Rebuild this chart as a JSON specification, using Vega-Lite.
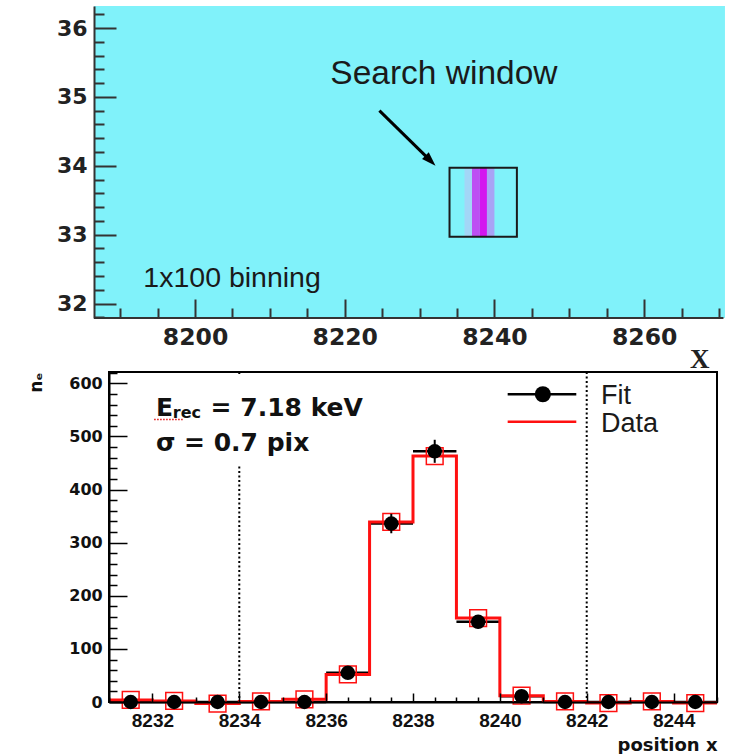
{
 "$schema": "https://vega.github.io/schema/vega-lite/v6.json",
 "padding": {"left": 26, "top": 6, "right": 0, "bottom": 0},
 "columns": 1,
 "bounds": "flush",
 "center": true,
 "spacing": 54,
 "config": {"view": {"stroke": null}, "axis": {"grid": false, "labelOverlap": false, "tickCount": 200, "zindex": 1}, "font": "Liberation Sans"},
 "datasets": {
  "heat": [
   {"x0": 8186.5, "x1": 8270.8, "y0": 31.79, "y1": 36.32, "v": 0},
   {"x0": 8236, "x1": 8237, "y0": 32.97, "y1": 33.97, "v": 52},
   {"x0": 8237, "x1": 8238, "y0": 32.97, "y1": 33.97, "v": 339},
   {"x0": 8238, "x1": 8239, "y0": 32.97, "y1": 33.97, "v": 463},
   {"x0": 8239, "x1": 8240, "y0": 32.97, "y1": 33.97, "v": 158}
  ],
  "xaxisline": [{"x0": 8186.5, "x1": 8270.6, "y": 31.79}],
  "box": [{"x0": 8234, "x1": 8243, "y0": 32.97, "y1": 33.97}],
  "arrow": [{"x": 8224.63, "y": 34.80, "x2": 8231.31, "y2": 34.09}],
  "arrowhead": [{"x": 8231.31, "y": 34.09}],
  "searchtext": [{"t": "Search window", "x": 8218.07, "y": 35.19}],
  "bintext": [{"t": "1x100 binning", "x": 8193.09, "y": 32.236}],
  "bins": [
   {"x": 8231.5, "x0": 8231, "x1": 8232, "data": 4, "fit": 0, "lo": 0, "hi": 0},
   {"x": 8232.5, "x0": 8232, "x1": 8233, "data": 2, "fit": 0, "lo": 0, "hi": 0},
   {"x": 8233.5, "x0": 8233, "x1": 8234, "data": -3, "fit": 0, "lo": 0, "hi": 0},
   {"x": 8234.5, "x0": 8234, "x1": 8235, "data": 1, "fit": 0, "lo": 0, "hi": 0},
   {"x": 8235.5, "x0": 8235, "x1": 8236, "data": 5, "fit": 0, "lo": 0, "hi": 0},
   {"x": 8236.5, "x0": 8236, "x1": 8237, "data": 52, "fit": 55, "lo": 47.6, "hi": 62.4},
   {"x": 8237.5, "x0": 8237, "x1": 8238, "data": 339, "fit": 336, "lo": 317.7, "hi": 354.3},
   {"x": 8238.5, "x0": 8238, "x1": 8239, "data": 463, "fit": 472, "lo": 450.3, "hi": 493.7},
   {"x": 8239.5, "x0": 8239, "x1": 8240, "data": 158, "fit": 151, "lo": 138.7, "hi": 163.3},
   {"x": 8240.5, "x0": 8240, "x1": 8241, "data": 12, "fit": 11, "lo": 7.7, "hi": 14.3},
   {"x": 8241.5, "x0": 8241, "x1": 8242, "data": 1, "fit": 0, "lo": 0, "hi": 0},
   {"x": 8242.5, "x0": 8242, "x1": 8243, "data": -2, "fit": 0, "lo": 0, "hi": 0},
   {"x": 8243.5, "x0": 8243, "x1": 8244, "data": 1, "fit": 0, "lo": 0, "hi": 0},
   {"x": 8244.5, "x0": 8244, "x1": 8245, "data": -2, "fit": 0, "lo": 0, "hi": 0}
  ],
  "steps": [
   {"edge": 8231, "n": 4}, {"edge": 8232, "n": 2}, {"edge": 8233, "n": -3}, {"edge": 8234, "n": 1},
   {"edge": 8235, "n": 5}, {"edge": 8236, "n": 52}, {"edge": 8237, "n": 339}, {"edge": 8238, "n": 463},
   {"edge": 8239, "n": 158}, {"edge": 8240, "n": 12}, {"edge": 8241, "n": 1}, {"edge": 8242, "n": -2},
   {"edge": 8243, "n": 1}, {"edge": 8244, "n": -2}, {"edge": 8245, "n": -2}
  ],
  "window": [{"pos": 8234}, {"pos": 8242}],
  "pave": [{"x0": 8232, "x1": 8236.9, "y0": 445, "y1": 615}],
  "ann25": [
   {"t": "E", "x": 8232.08, "y": 538.4},
   {"t": "= 7.18 keV", "x": 8233.34, "y": 538.4},
   {"t": "σ = 0.7 pix", "x": 8232.08, "y": 472.4}
  ],
  "annsub": [{"t": "rec", "x": 8232.47, "y": 535.4}],
  "squiggle": [{"x0": 8232.04, "x1": 8232.7, "y": 532}],
  "legline": [
   {"s": "Fit", "x0": 8240.18, "x1": 8241.76, "y": 579.3},
   {"s": "Data", "x0": 8240.18, "x1": 8241.76, "y": 527.8}
  ],
  "legdot": [{"x": 8240.99, "y": 579.3}],
  "legtext": [
   {"t": "Fit", "x": 8242.33, "y": 560.4},
   {"t": "Data", "x": 8242.33, "y": 507.6}
  ]
 },
 "concat": [
  {
   "width": 638,
   "height": 312,
   "layer": [
    {
     "data": {"name": "heat"},
     "mark": {"type": "rect"},
     "encoding": {
      "x": {"field": "x0", "type": "quantitative",
       "scale": {"domain": [8186.5, 8271.74], "nice": false, "zero": false},
       "axis": {
        "values": [8190, 8195, 8200, 8205, 8210, 8215, 8220, 8225, 8230, 8235, 8240, 8245, 8250, 8255, 8260, 8265, 8270],
        "labelExpr": "datum.value % 20 === 0 ? format(datum.value, 'd') : ''",
        "labelFont": "DejaVu Sans", "labelFontWeight": "bold", "labelColor": "#222",
        "labelFontSize": {"condition": {"test": "datum.value % 20 === 0", "value": 23.5}, "value": 0.1},
        "labelPadding": 26.6, "labelOverlap": false, "labelFlush": false, "tickCount": 200,
        "tickSize": {"condition": {"test": "datum.value % 20 === 0", "value": -19}, "value": -10},
        "tickColor": "#333", "tickWidth": 2, "zindex": 1,
        "domain": false,
        "title": "X", "titleFont": "Liberation Serif", "titleFontWeight": "bold", "titleFontSize": 27, "titleColor": "#222",
        "titleX": 615, "titleY": 49, "titleAlign": "right", "titleBaseline": "alphabetic", "titleAnchor": "end"
       }
      },
      "x2": {"field": "x1"},
      "y": {"field": "y0", "type": "quantitative",
       "scale": {"domain": [31.79, 36.32], "nice": false, "zero": false},
       "axis": {
        "values": [31.8, 32, 32.2, 32.4, 32.6, 32.8, 33, 33.2, 33.4, 33.6, 33.8, 34, 34.2, 34.4, 34.6, 34.8, 35, 35.2, 35.4, 35.6, 35.8, 36, 36.2],
        "labelExpr": "abs(datum.value - round(datum.value)) < 0.01 ? format(round(datum.value), 'd') : ''",
        "labelFont": "DejaVu Sans", "labelFontWeight": "bold", "labelColor": "#222",
        "labelFontSize": {"condition": {"test": "abs(datum.value - round(datum.value)) < 0.01", "value": 22}, "value": 0.1},
        "labelPadding": 29, "labelOverlap": false, "labelFlush": false, "tickCount": 200,
        "tickSize": {"condition": {"test": "abs(datum.value - round(datum.value)) < 0.01", "value": -22}, "value": -10},
        "tickColor": "#333", "tickWidth": 2, "zindex": 1,
        "domainColor": "#333", "domainWidth": 2,
        "title": null
       }
      },
      "y2": {"field": "y1"},
      "color": {"field": "v", "type": "quantitative",
       "scale": {"domain": [0, 52, 150, 340, 470], "range": ["#80f2fa", "#a3d6f7", "#a7a8f5", "#bd4ff3", "#d414ef"], "interpolate": "rgb"},
       "legend": null}
     }
    },
    {
     "data": {"name": "xaxisline"},
     "mark": {"type": "rule", "strokeWidth": 2, "color": "#333"},
     "encoding": {
      "x": {"field": "x0", "type": "quantitative"}, "x2": {"field": "x1"},
      "y": {"field": "y", "type": "quantitative"}
     }
    },
    {
     "data": {"name": "box"},
     "mark": {"type": "rect", "fillOpacity": 0, "stroke": "#1a1a1a", "strokeWidth": 2},
     "encoding": {
      "x": {"field": "x0", "type": "quantitative"}, "x2": {"field": "x1"},
      "y": {"field": "y0", "type": "quantitative"}, "y2": {"field": "y1"}
     }
    },
    {
     "data": {"name": "arrow"},
     "mark": {"type": "rule", "strokeWidth": 3, "color": "#000"},
     "encoding": {
      "x": {"field": "x", "type": "quantitative"}, "x2": {"field": "x2"},
      "y": {"field": "y", "type": "quantitative"}, "y2": {"field": "y2"}
     }
    },
    {
     "data": {"name": "arrowhead"},
     "mark": {"type": "point", "shape": "M0,-1L0.55,0.65L-0.55,0.65Z", "angle": 135, "filled": true, "color": "#000", "opacity": 1, "size": 300},
     "encoding": {
      "x": {"field": "x", "type": "quantitative"},
      "y": {"field": "y", "type": "quantitative"}
     }
    },
    {
     "data": {"name": "searchtext"},
     "mark": {"type": "text", "align": "left", "baseline": "alphabetic", "font": "Liberation Sans", "fontSize": 33.5, "color": "#1a1a1a"},
     "encoding": {
      "x": {"field": "x", "type": "quantitative"},
      "y": {"field": "y", "type": "quantitative"},
      "text": {"field": "t"}
     }
    },
    {
     "data": {"name": "bintext"},
     "mark": {"type": "text", "align": "left", "baseline": "alphabetic", "font": "Liberation Sans", "fontSize": 28.5, "color": "#1a1a1a"},
     "encoding": {
      "x": {"field": "x", "type": "quantitative"},
      "y": {"field": "y", "type": "quantitative"},
      "text": {"field": "t"}
     }
    }
   ]
  },
  {
   "width": 608,
   "height": 330,
   "view": {"stroke": "#000", "strokeWidth": 2},
   "layer": [
    {
     "data": {"name": "bins"},
     "mark": {"type": "rule", "strokeWidth": 2.5, "color": "#000"},
     "encoding": {
      "x": {"field": "x0", "type": "quantitative",
       "scale": {"domain": [8231, 8245], "nice": false, "zero": false},
       "axis": {
        "values": [8231, 8231.5, 8232, 8232.5, 8233, 8233.5, 8234, 8234.5, 8235, 8235.5, 8236, 8236.5, 8237, 8237.5, 8238, 8238.5, 8239, 8239.5, 8240, 8240.5, 8241, 8241.5, 8242, 8242.5, 8243, 8243.5, 8244, 8244.5, 8245],
        "labelExpr": "datum.value % 2 === 0 ? format(datum.value, 'd') : ''",
        "labelFont": "Liberation Sans", "labelFontWeight": "bold", "labelColor": "#111",
        "labelFontSize": {"condition": {"test": "datum.value % 2 === 0", "value": 19}, "value": 0.1},
        "labelPadding": 18.3, "labelOverlap": false, "labelFlush": false, "tickCount": 200,
        "tickSize": {"condition": {"test": "datum.value % 2 === 0", "value": -9}, "value": -5},
        "tickColor": "#000", "tickWidth": 1.5, "zindex": 1,
        "domainColor": "#000", "domainWidth": 2,
        "title": "position x", "titleFont": "DejaVu Sans", "titleFontWeight": "bold", "titleFontSize": 18, "titleColor": "#111",
        "titleX": 608, "titleY": 48, "titleAlign": "right", "titleBaseline": "alphabetic", "titleAnchor": "end"
       }
      },
      "x2": {"field": "x1"},
      "y": {"field": "fit", "type": "quantitative",
       "scale": {"domain": [0, 621.3], "nice": false, "zero": false},
       "axis": {
        "values": [0, 20, 40, 60, 80, 100, 120, 140, 160, 180, 200, 220, 240, 260, 280, 300, 320, 340, 360, 380, 400, 420, 440, 460, 480, 500, 520, 540, 560, 580, 600, 620],
        "labelExpr": "datum.value % 100 === 0 ? format(datum.value, 'd') : ''",
        "labelFont": "DejaVu Sans", "labelFontWeight": "bold", "labelColor": "#111",
        "labelFontSize": {"condition": {"test": "datum.value % 100 === 0", "value": 16}, "value": 0.1},
        "labelPadding": 24.8, "labelOverlap": false, "labelFlush": false, "tickCount": 200,
        "tickSize": {"condition": {"test": "datum.value % 100 === 0", "value": -18}, "value": -8},
        "tickColor": "#000", "tickWidth": 1.5, "zindex": 1,
        "domainColor": "#000", "domainWidth": 2,
        "title": "nₑ", "titleFont": "DejaVu Sans", "titleFontWeight": "bold", "titleFontSize": 17, "titleColor": "#111",
        "titleAngle": 270, "titleX": -73, "titleY": 0, "titleAlign": "right", "titleBaseline": "middle"
       }
      }
     }
    },
    {
     "data": {"name": "window"},
     "mark": {"type": "rule", "strokeDash": [2, 2.5], "strokeWidth": 2, "color": "#000"},
     "encoding": {"x": {"field": "pos", "type": "quantitative"}}
    },
    {
     "data": {"name": "pave"},
     "mark": {"type": "rect", "color": "#fff", "opacity": 1},
     "encoding": {
      "x": {"field": "x0", "type": "quantitative"}, "x2": {"field": "x1"},
      "y": {"field": "y0", "type": "quantitative"}, "y2": {"field": "y1"}
     }
    },
    {
     "data": {"name": "steps"},
     "mark": {"type": "line", "interpolate": "step-after", "color": "#ff1010", "strokeWidth": 3},
     "encoding": {
      "x": {"field": "edge", "type": "quantitative"},
      "y": {"field": "n", "type": "quantitative"}
     }
    },
    {
     "data": {"name": "bins"},
     "mark": {"type": "point", "shape": "square", "filled": false, "color": "#ff1010", "strokeWidth": 1.5, "size": 280, "opacity": 1},
     "encoding": {
      "x": {"field": "x", "type": "quantitative"},
      "y": {"field": "data", "type": "quantitative"}
     }
    },
    {
     "data": {"name": "bins"},
     "mark": {"type": "rule", "strokeWidth": 2, "color": "#000"},
     "encoding": {
      "x": {"field": "x", "type": "quantitative"},
      "y": {"field": "lo", "type": "quantitative"}, "y2": {"field": "hi"}
     }
    },
    {
     "data": {"name": "bins"},
     "mark": {"type": "point", "shape": "circle", "filled": true, "color": "#000", "size": 210, "opacity": 1},
     "encoding": {
      "x": {"field": "x", "type": "quantitative"},
      "y": {"field": "fit", "type": "quantitative"}
     }
    },
    {
     "data": {"name": "ann25"},
     "mark": {"type": "text", "align": "left", "baseline": "alphabetic", "font": "DejaVu Sans", "fontWeight": "bold", "fontSize": 25, "color": "#111"},
     "encoding": {
      "x": {"field": "x", "type": "quantitative"},
      "y": {"field": "y", "type": "quantitative"},
      "text": {"field": "t"}
     }
    },
    {
     "data": {"name": "annsub"},
     "mark": {"type": "text", "align": "left", "baseline": "alphabetic", "font": "DejaVu Sans", "fontWeight": "bold", "fontSize": 16, "color": "#111"},
     "encoding": {
      "x": {"field": "x", "type": "quantitative"},
      "y": {"field": "y", "type": "quantitative"},
      "text": {"field": "t"}
     }
    },
    {
     "data": {"name": "squiggle"},
     "mark": {"type": "rule", "strokeDash": [1.5, 1.5], "strokeWidth": 1.5, "color": "#e01010"},
     "encoding": {
      "x": {"field": "x0", "type": "quantitative"}, "x2": {"field": "x1"},
      "y": {"field": "y", "type": "quantitative"}
     }
    },
    {
     "data": {"name": "legline"},
     "mark": {"type": "rule", "strokeWidth": 2.5},
     "encoding": {
      "x": {"field": "x0", "type": "quantitative"}, "x2": {"field": "x1"},
      "y": {"field": "y", "type": "quantitative"},
      "color": {"field": "s", "type": "nominal", "scale": {"domain": ["Fit", "Data"], "range": ["#000", "#ff1010"]}, "legend": null}
     }
    },
    {
     "data": {"name": "legdot"},
     "mark": {"type": "point", "shape": "circle", "filled": true, "color": "#000", "size": 260, "opacity": 1},
     "encoding": {
      "x": {"field": "x", "type": "quantitative"},
      "y": {"field": "y", "type": "quantitative"}
     }
    },
    {
     "data": {"name": "legtext"},
     "mark": {"type": "text", "align": "left", "baseline": "alphabetic", "font": "Liberation Sans", "fontSize": 27, "color": "#1a1a1a"},
     "encoding": {
      "x": {"field": "x", "type": "quantitative"},
      "y": {"field": "y", "type": "quantitative"},
      "text": {"field": "t"}
     }
    }
   ]
  }
 ]
}
